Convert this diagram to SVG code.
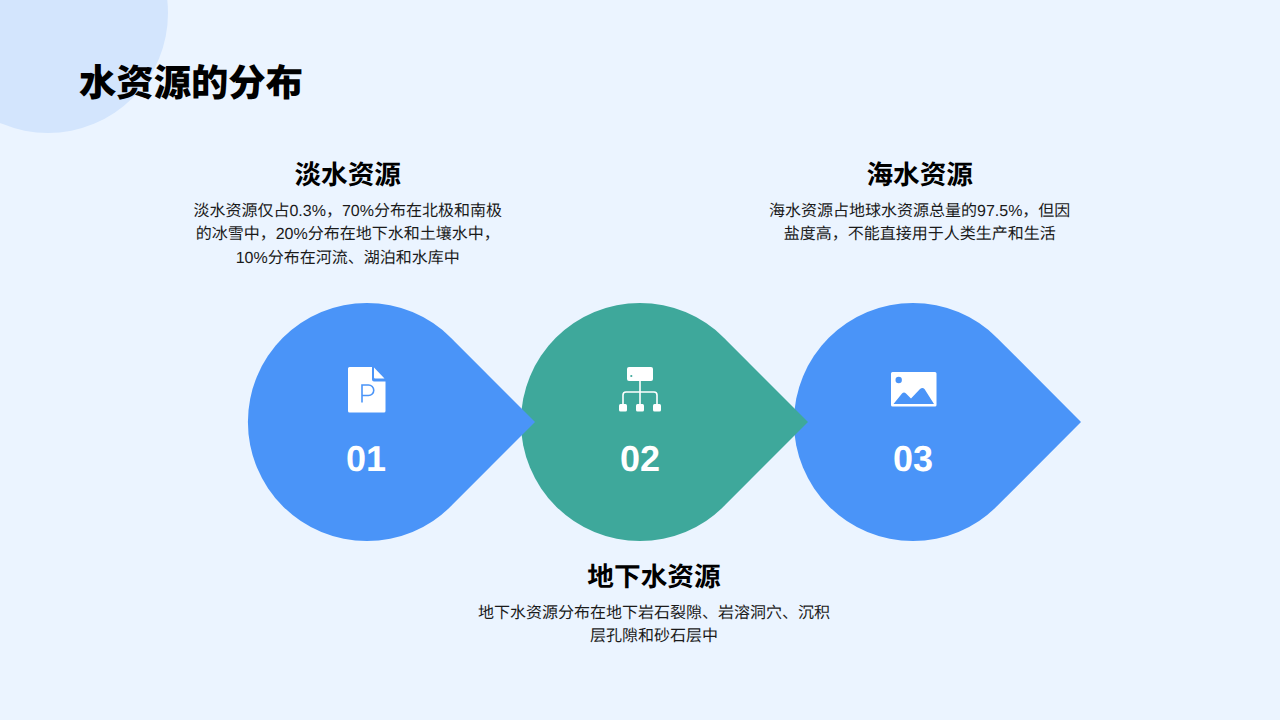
<svg xmlns="http://www.w3.org/2000/svg" width="1280" height="720" viewBox="0 0 1280 720">
<style>
text{font-family:"Liberation Sans","Noto Sans CJK SC",sans-serif;text-anchor:middle;fill:#000;text-rendering:geometricPrecision}
.title{font-size:37.330px;font-weight:900;text-anchor:start}
.head{font-size:26.670px;font-weight:700}
.body{font-size:16px;fill:#1a1a1a}
.num{font-size:36px;font-weight:700;fill:#fff}
.blue{fill:#4a94f8}
.teal{fill:#3ea89b}
.ic{fill:#fff}
</style>
<defs>
<path id="drop" d="M84.100-84.100L168 0L84.100 84.100A119 119 0 1 1 84.100-84.100Z"/>
</defs>
<rect width="1280" height="720" fill="#ebf4ff"/>
<circle cx="48" cy="13" r="120" fill="#d3e5fd"/>
<text class="title" x="79" y="96">水资源的分布</text>
<g id="connectors"/>
<g id="node-03">
<use href="#drop" x="913" y="422" class="blue"/>
<path class="ic" d="M892.500 372H935a1.500 1.500 0 0 1 1.500 1.500V405a1.500 1.500 0 0 1-1.500 1.500H892.500a1.500 1.500 0 0 1-1.500-1.500V373.500a1.500 1.500 0 0 1 1.500-1.500Z"/>
<circle cx="898.700" cy="380" r="3.200" class="blue"/>
<path class="blue" d="M893.500 404L902 393.500Q904 391.500 906 393.500L911 398.500L920 389Q922.500 387 924.500 389L934 404Z"/>
<text class="num" x="913" y="471">03</text>
</g>
<g id="node-02">
<use href="#drop" x="640" y="422" class="teal"/>
<rect class="ic" x="627" y="367" width="26" height="14" rx="2"/>
<circle cx="631.300" cy="376" r="1.100" class="teal"/>
<path d="M640 381V404M623 404V395Q623 392 626 392H654Q657 392 657 395V404" fill="none" stroke="#fff" stroke-width="1.600"/>
<rect class="ic" x="619" y="404" width="8" height="7.500" rx="1.500"/>
<rect class="ic" x="636" y="404" width="8" height="7.500" rx="1.500"/>
<rect class="ic" x="653" y="404" width="8" height="7.500" rx="1.500"/>
<text class="num" x="640" y="471">02</text>
</g>
<g id="node-01">
<use href="#drop" x="367" y="422" class="blue"/>
<path class="ic" d="M349.500 367H372V379.500a2 2 0 0 0 2 2H385.500V411a1.500 1.500 0 0 1-1.500 1.500H349.500a1.500 1.500 0 0 1-1.500-1.500V368.500a1.500 1.500 0 0 1 1.500-1.500Z"/>
<path class="ic" d="M374 367.500L384.500 378.500H375a1 1 0 0 1-1-1Z"/>
<path d="M362 402.500V385H368.500a5 5 0 0 1 0 10.500H362" fill="none" stroke="#4a94f8" stroke-width="1.600"/>
<text class="num" x="366" y="471">01</text>
</g>
<g id="label-01">
<text class="head" x="347.700" y="183.500">淡水资源</text>
<text class="body" x="347.700" y="216">淡水资源仅占0.3%，70%分布在北极和南极</text>
<text class="body" x="347.700" y="239">的冰雪中，20%分布在地下水和土壤水中，</text>
<text class="body" x="347.700" y="263">10%分布在河流、湖泊和水库中</text>
</g>
<g id="label-02">
<text class="head" x="654" y="585.500">地下水资源</text>
<text class="body" x="654" y="618">地下水资源分布在地下岩石裂隙、岩溶洞穴、沉积</text>
<text class="body" x="654" y="641">层孔隙和砂石层中</text>
</g>
<g id="label-03">
<text class="head" x="919.700" y="183.500">海水资源</text>
<text class="body" x="919.700" y="216">海水资源占地球水资源总量的97.5%，但因</text>
<text class="body" x="919.700" y="239">盐度高，不能直接用于人类生产和生活</text>
</g>
</svg>
